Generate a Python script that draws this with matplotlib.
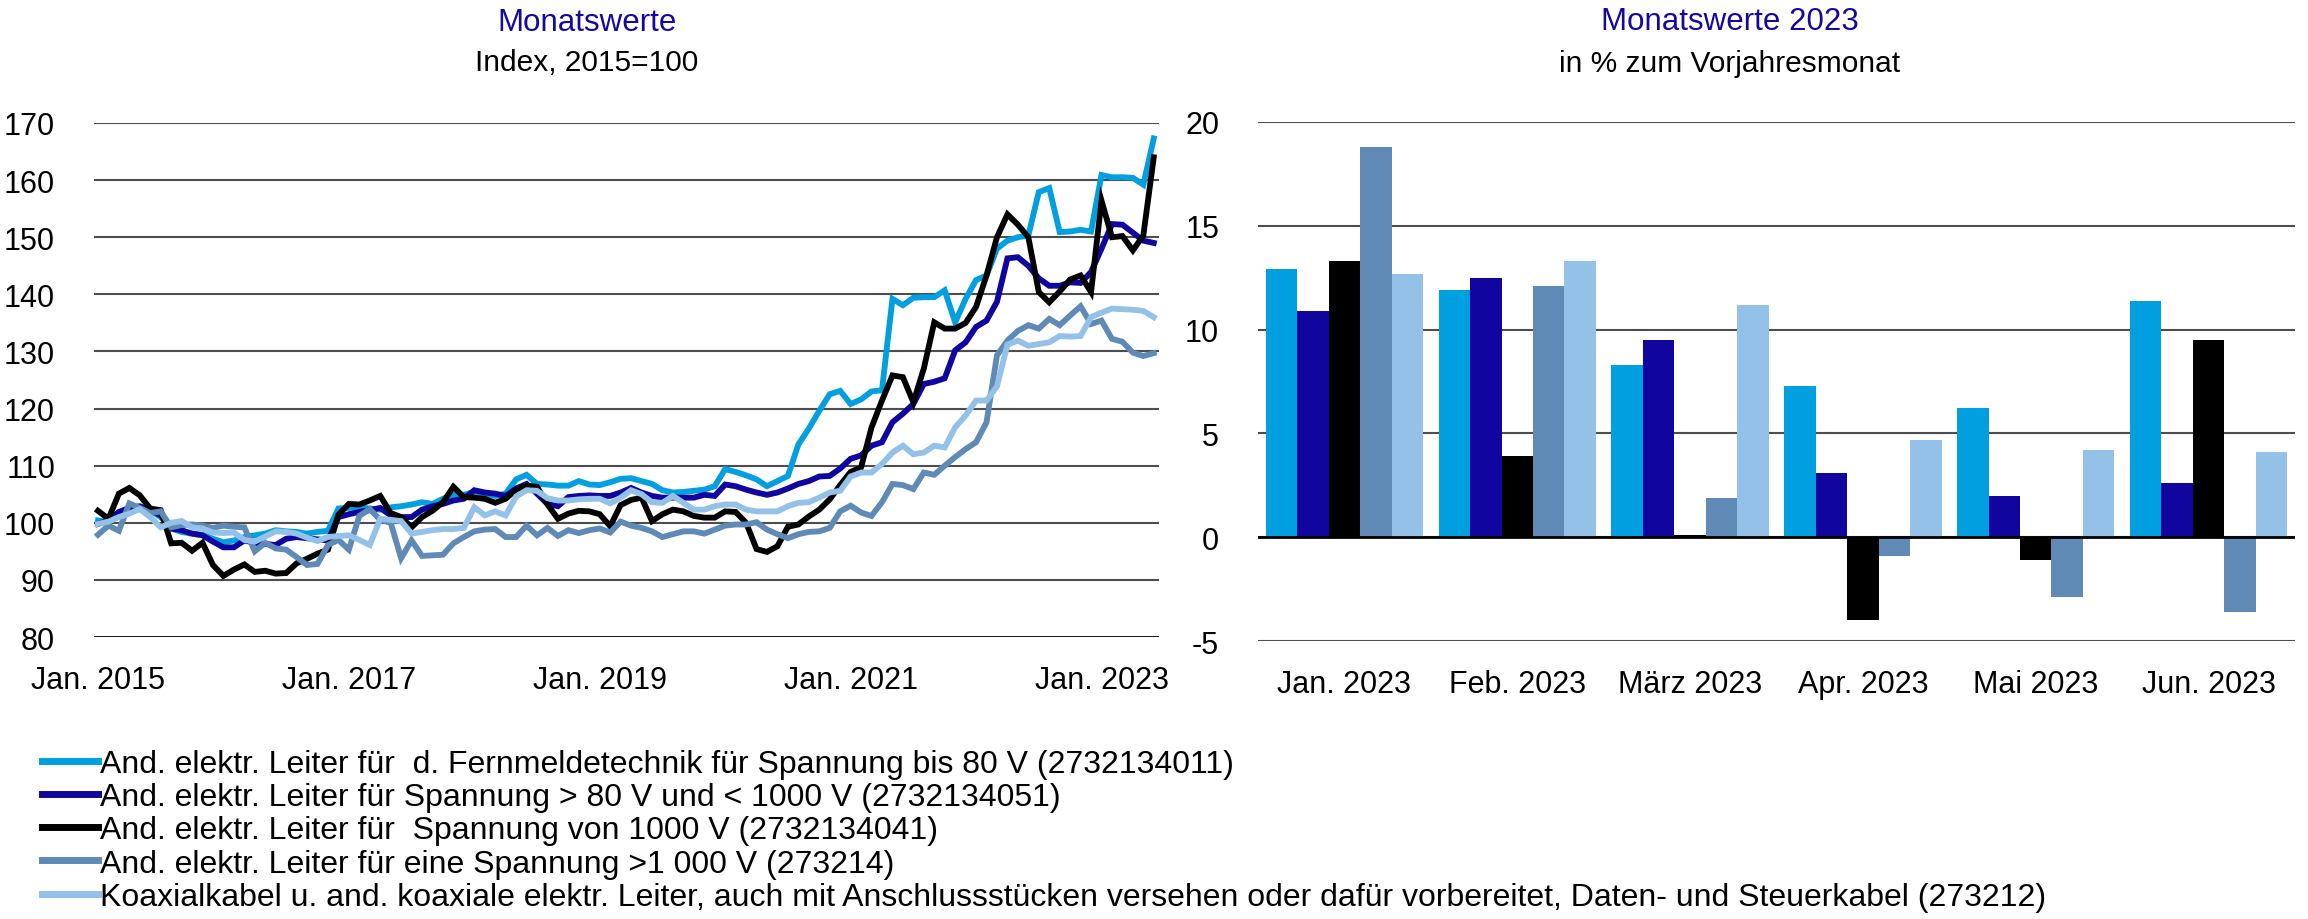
import matplotlib
matplotlib.use("Agg")
import matplotlib.pyplot as plt
import numpy as np

plt.rcParams['font.family'] = ['Liberation Sans', 'DejaVu Sans']

# ---- data: monthly index, Jan. 2015 - Jun. 2023 (2015=100)
months = np.arange(102)
xtick_pos = [0, 24, 48, 72, 96]
xtick_labels = ["Jan. 2015", "Jan. 2017", "Jan. 2019", "Jan. 2021", "Jan. 2023"]

fernmelde = [100.4, 100.1, 101.6, 102.5, 102.7, 102.2, 101.0, 99.0, 98.4, 98.1, 97.9, 97.2,
             96.6, 96.9, 97.5, 97.8, 98.1, 98.7, 98.5, 98.4, 98.1, 98.4, 98.6, 102.5,
             102.6, 102.7, 102.5, 102.3, 102.7, 102.9, 103.2, 103.6, 103.3, 104.2, 104.9, 104.9,
             105.4, 105.1, 104.7, 105.1, 107.6, 108.4, 106.8, 106.7, 106.5, 106.5, 107.3, 106.7,
             106.6, 107.1, 107.7, 107.8, 107.3, 106.8, 105.7, 105.3, 105.4, 105.6, 105.8, 106.4,
             109.4, 108.9, 108.3, 107.6, 106.4, 107.3, 108.2, 113.7, 116.5, 119.6, 122.5, 123.1,
             120.8, 121.6, 123.0, 123.2, 139.2, 138.1, 139.4, 139.5, 139.5, 140.7, 135.1, 139.2,
             142.5, 143.3, 148.0, 149.4, 150.0, 150.3, 157.9, 158.6, 150.9, 151.0, 151.3, 151.0,
             160.9, 160.5, 160.5, 160.4, 159.2, 167.3]
bis1000 = [99.8, 100.4, 101.9, 102.6, 102.9, 102.2, 101.3, 99.0, 98.7, 98.1, 97.8, 96.7,
           95.7, 95.7, 96.9, 96.5, 96.3, 96.1, 97.2, 97.5, 97.3, 97.1, 96.9, 101.0,
           101.5, 101.9, 102.2, 102.6, 101.3, 101.0, 101.0, 102.3, 102.9, 103.3, 103.9, 104.2,
           105.7, 105.3, 105.1, 104.7, 106.0, 106.8, 105.1, 103.3, 102.9, 104.5, 104.7, 104.8,
           104.7, 104.7, 105.3, 106.1, 105.3, 104.7, 104.4, 104.4, 104.4, 104.4, 104.9, 104.7,
           106.7, 106.4, 105.8, 105.3, 104.9, 105.3, 106.0, 106.8, 107.3, 108.1, 108.2, 109.5,
           111.2, 111.8, 113.5, 114.1, 117.6, 119.1, 120.8, 124.3, 124.7, 125.3, 130.2, 131.6,
           134.3, 135.4, 138.7, 146.3, 146.5, 145.0, 142.8, 141.5, 141.5, 142.1, 142.0, 143.9,
           148.0, 152.3, 152.2, 150.8, 149.4, 149.0]
von1000 = [102.1, 100.7, 105.1, 106.1, 104.8, 102.5, 102.2, 96.4, 96.5, 95.1, 96.5, 92.6,
           90.7, 91.8, 92.7, 91.4, 91.6, 91.1, 91.2, 92.9, 93.7, 94.6, 95.3, 101.4,
           103.3, 103.2, 103.9, 104.7, 101.7, 101.0, 99.2, 101.0, 102.1, 103.6, 106.3, 104.5,
           104.4, 104.2, 103.5, 104.2, 105.8, 106.5, 106.3, 103.2, 100.7, 101.6, 102.1, 102.0,
           101.5, 99.4, 103.1, 104.0, 104.4, 100.3, 101.5, 102.3, 102.0, 101.2, 100.9, 100.9,
           102.0, 101.9, 100.0, 95.4, 94.9, 95.9, 99.3, 99.7, 101.1, 102.3, 104.1, 106.6,
           108.9, 109.7, 116.7, 121.4, 125.8, 125.5, 121.1, 127.0, 135.1, 134.0, 134.0, 135.0,
           137.8, 143.3, 150.0, 154.0, 152.2, 150.0, 140.4, 138.6, 140.5, 142.6, 143.3, 140.4,
           156.4, 150.0, 150.2, 147.7, 150.3, 164.0]
ueber1000 = [97.9, 99.5, 98.6, 103.4, 102.6, 101.7, 102.0, 99.2, 99.6, 99.7, 99.5, 99.1,
             99.5, 99.3, 99.2, 95.0, 96.5, 95.5, 95.3, 94.0, 92.6, 92.8, 96.1, 97.0,
             95.3, 101.2, 102.4, 100.5, 100.0, 93.8, 96.9, 94.2, 94.3, 94.4, 96.4, 97.5,
             98.5, 98.8, 98.9, 97.5, 97.5, 99.5, 97.8, 99.1, 97.7, 98.7, 98.2, 98.7,
             99.0, 98.3, 100.2, 99.5, 99.1, 98.5, 97.5, 98.0, 98.5, 98.5, 98.1, 98.8,
             99.5, 99.7, 99.7, 100.1, 98.8, 98.0, 97.3, 98.0, 98.4, 98.5, 99.1, 102.0,
             103.0, 101.8, 101.2, 103.6, 106.8, 106.6, 105.9, 108.8, 108.4, 110.0, 111.5, 112.9,
             114.1, 117.6, 129.3, 131.9, 133.6, 134.6, 134.0, 135.7, 134.6, 136.3, 137.9, 134.8,
             135.4, 132.2, 131.7, 129.8, 129.2, 129.7]
koaxial = [99.8, 100.2, 101.0, 101.6, 102.4, 101.0, 99.2, 100.0, 100.3, 99.2, 99.0, 98.3,
           98.2, 98.3, 97.0, 96.7, 97.6, 98.5, 98.4, 98.1, 97.4, 96.8, 97.5, 97.7,
           97.8, 97.0, 96.1, 100.7, 100.5, 100.3, 98.1, 98.4, 98.7, 98.9, 98.9, 99.1,
           102.7, 101.3, 102.0, 101.3, 104.6, 105.7, 105.6, 104.3, 103.9, 103.9, 104.1, 104.2,
           104.2, 103.4, 104.4, 105.7, 105.0, 103.6, 103.5, 104.7, 103.5, 102.3, 102.3, 102.9,
           103.2, 103.2, 102.3, 102.0, 102.0, 102.0, 102.9, 103.5, 103.6, 104.4, 105.3, 105.6,
           108.1, 108.8, 108.8, 110.3, 112.3, 113.5, 112.0, 112.3, 113.5, 113.2, 116.7, 118.8,
           121.4, 121.4, 123.9, 131.2, 131.9, 131.0, 131.3, 131.6, 132.7, 132.6, 132.7, 136.0,
           136.8, 137.5, 137.4, 137.3, 137.1, 136.0]

# ---- data: change vs. previous year's month, 2023 (%)
bar_months = ["Jan. 2023", "Feb. 2023", "März 2023", "Apr. 2023", "Mai 2023", "Jun. 2023"]
yoy_fernmelde = [12.9, 11.9, 8.3, 7.3, 6.2, 11.4]
yoy_bis1000 = [10.9, 12.5, 9.5, 3.1, 2.0, 2.6]
yoy_von1000 = [13.3, 3.9, 0.1, -4.0, -1.1, 9.5]
yoy_ueber1000 = [18.8, 12.1, 1.9, -0.9, -2.9, -3.6]
yoy_koaxial = [12.7, 13.3, 11.2, 4.7, 4.2, 4.1]

labels = [
    "And. elektr. Leiter für  d. Fernmeldetechnik für Spannung bis 80 V (2732134011)",
    "And. elektr. Leiter für Spannung > 80 V und < 1000 V (2732134051)",
    "And. elektr. Leiter für  Spannung von 1000 V (2732134041)",
    "And. elektr. Leiter für eine Spannung >1 000 V (273214)",
    "Koaxialkabel u. and. koaxiale elektr. Leiter, auch mit Anschlussstücken versehen oder dafür vorbereitet, Daten- und Steuerkabel (273212)",
]
colors = ["#009FDF", "#10069F", "#000000", "#5F8AB5", "#93C1E8"]
title_col = "#14089F"

fig = plt.figure(figsize=(23.08, 9.2), dpi=100)

# ---------- left: line chart
ax1 = fig.add_axes([94 / 2308, 282 / 920, 1065 / 2308, 514 / 920])
series = [fernmelde, bis1000, von1000, ueber1000, koaxial]
lines = []
for s, c in zip(series, colors):
    ln, = ax1.plot(months, s, color=c, lw=4.2, solid_joinstyle='miter')
    lines.append(ln)
ax1.set_xlim(-0.38, 101.5)
ax1.set_ylim(80, 170)
ax1.set_yticks(np.arange(80, 171, 10))
ax1.set_xticks(xtick_pos)
ax1.set_xticklabels(xtick_labels)
for y in range(90, 171, 10):
    ax1.axhline(y, color="#4d4d4d", lw=1.5, zorder=0)
ax1.axhline(80, color="black", lw=2, zorder=0)

# ---------- right: bar chart
ax2 = fig.add_axes([1258 / 2308, 278 / 920, 1037 / 2308, 519 / 920])
yoy = [yoy_fernmelde, yoy_bis1000, yoy_von1000, yoy_ueber1000, yoy_koaxial]
x = np.arange(len(bar_months))
w = 0.182
for k, (vals, c) in enumerate(zip(yoy, colors)):
    ax2.bar(x + (k - 2) * w, vals, width=w, color=c, zorder=2)
ax2.set_xlim(-0.5, 5.5)
ax2.set_ylim(-5, 20)
ax2.set_yticks(np.arange(-5, 21, 5))
ax2.set_yticklabels([str(v) for v in range(-5, 21, 5)])
ax2.set_xticks(x)
ax2.set_xticklabels(bar_months)
for y in range(-5, 21, 5):
    ax2.axhline(y, color="#4d4d4d", lw=1.5, zorder=0)
ax2.axhline(0, color="black", lw=2, zorder=3)

for ax in (ax1, ax2):
    for sp in ax.spines.values():
        sp.set_visible(False)
    ax.tick_params(length=0, labelsize=22)
    ax.tick_params(axis='y', pad=28)
    ax.tick_params(axis='x', pad=20)

# ---------- titles
fig.text(587 / 2308, 1 - 23 / 920, "Monatswerte", ha="center", va="center",
         fontsize=22.5, color=title_col)
fig.text(587 / 2308, 1 - 63 / 920, "Index, 2015=100", ha="center", va="center",
         fontsize=21.5)
fig.text(1730 / 2308, 1 - 22 / 920, "Monatswerte 2023", ha="center", va="center",
         fontsize=22.5, color=title_col)
fig.text(1730 / 2308, 1 - 64 / 920, "in % zum Vorjahresmonat", ha="center", va="center",
         fontsize=21.5)

# ---------- legend
leg = fig.legend(lines, labels, loc="upper left", bbox_to_anchor=(42 / 2308, 1 - 750 / 920),
                 frameon=False, fontsize=23, handlelength=1.75, handletextpad=0.05,
                 labelspacing=0.1, borderpad=0, borderaxespad=0)
for h in leg.legend_handles:
    h.set_linewidth(5)

fig.savefig("out.png", dpi=100)
